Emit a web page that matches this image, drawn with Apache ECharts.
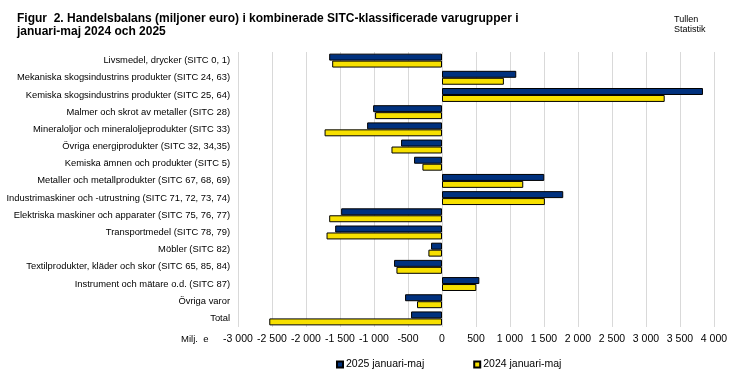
<!DOCTYPE html>
<html><head><meta charset="utf-8">
<script src="https://cdn.jsdelivr.net/npm/echarts@6/dist/echarts.min.js"></script>
<style>html,body{margin:0;padding:0;background:#fff}#c{width:737px;height:378px}</style>
</head><body><div id="c"></div>
<script>
const categories = [
  "Livsmedel, drycker (SITC 0, 1)",
  "Mekaniska skogsindustrins produkter (SITC 24, 63)",
  "Kemiska skogsindustrins produkter (SITC 25, 64)",
  "Malmer och skrot av metaller (SITC 28)",
  "Mineraloljor och mineraloljeprodukter (SITC 33)",
  "Övriga energiprodukter (SITC 32, 34,35)",
  "Kemiska ämnen och produkter (SITC 5)",
  "Metaller och metallprodukter (SITC 67, 68, 69)",
  "Industrimaskiner och -utrustning (SITC 71, 72, 73, 74)",
  "Elektriska maskiner och apparater (SITC 75, 76, 77)",
  "Transportmedel (SITC 78, 79)",
  "Möbler (SITC 82)",
  "Textilprodukter, kläder och skor (SITC 65, 85, 84)",
  "Instrument och mätare o.d. (SITC 87)",
  "Övriga varor",
  "Total"
];
const series2025 = [-1659, 1092, 3838, -1013, -1101, -602, -411, 1504, 1783, -1483, -1571, -161, -705, 549, -543, -455];
const series2024 = [-1615, 910, 3275, -984, -1727, -743, -288, 1195, 1513, -1659, -1698, -200, -670, 505, -367, -2540];
const seriesNames = ["2025 januari-maj", "2024 januari-maj"];
const axisMin = -3000, axisMax = 4000, axisStep = 500;

const fmt = v => {
  const s = Math.abs(v).toString().replace(/\B(?=(\d{3})+(?!\d))/g, " ");
  return (v < 0 ? "-" : "") + s;
};
const chart = echarts.init(document.getElementById('c'), null, {renderer:'canvas'});
const font = "Liberation Sans, Arial, sans-serif";
chart.setOption({
  animation: false,
  textStyle: {fontFamily: font},
  title: [
    {text: "Figur  2. Handelsbalans (miljoner euro) i kombinerade SITC-klassificerade varugrupper i\njanuari-maj 2024 och 2025",
     left: 12, top: 7,
     textStyle: {fontFamily: font, fontWeight: "bold", fontSize: 12, lineHeight: 13, color: "#000"}},
    {text: "Tullen\nStatistik", left: 669, top: 10,
     textStyle: {fontFamily: font, fontWeight: "normal", fontSize: 9, lineHeight: 10, color: "#000"}}
  ],
  graphic: [{type: "text", left: 181, top: 334, style: {text: "Milj.  e", font: "9.5px Liberation Sans, Arial, sans-serif", fill: "#000"}}],
  legend: {
    data: seriesNames, top: 354, left: 331, itemGap: 49,
    itemWidth: 6, itemHeight: 6, textStyle: {fontSize: 10.5, color: "#000", padding: [0,0,0,-2]},
    icon: "rect"
  },
  grid: {left: 238, right: 23, top: 52, bottom: 51, containLabel: false, outerBoundsMode: "none"},
  xAxis: {
    type: "value", min: axisMin, max: axisMax, interval: axisStep,
    axisLine: {show: false}, axisTick: {show: false},
    splitLine: {show: true, lineStyle: {color: "#d9d9d9", width: 1}},
    axisLabel: {formatter: fmt, fontSize: 10.5, color: "#000", margin: 7}
  },
  yAxis: {
    type: "category", data: categories, inverse: true,
    axisLine: {show: false}, axisTick: {show: false},
    axisLabel: {fontSize: 9.4, color: "#000", margin: 8}
  },
  series: [
    {name: seriesNames[0], type: "bar", data: series2025, barGap: "0%", barCategoryGap: "19%",
     itemStyle: {color: "#00317e", borderColor: "#000", borderWidth: 1}},
    {name: seriesNames[1], type: "bar", data: series2024, barGap: "0%", barCategoryGap: "19%",
     itemStyle: {color: "#f7e000", borderColor: "#000", borderWidth: 1}}
  ]
});
</script></body></html>
